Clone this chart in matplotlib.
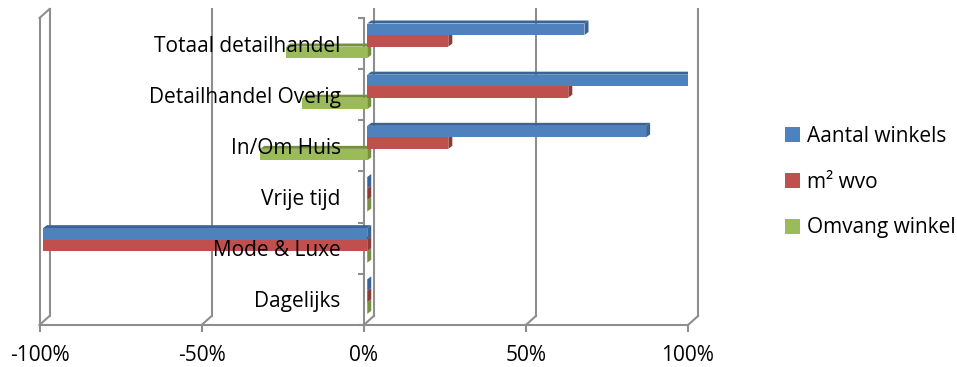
import numpy as np
import matplotlib
matplotlib.use("Agg")
import matplotlib.pyplot as plt
from matplotlib.patches import Patch, Polygon, Rectangle
from matplotlib.transforms import ScaledTranslation

# data (bottom -> top)
categories = ["Dagelijks", "Mode & Luxe", "Vrije tijd", "In/Om Huis",
              "Detailhandel Overig", "Totaal detailhandel"]
aantal_winkels = [0.0, -1.00, 0.0, 0.86, 1.00, 0.67]
m2_wvo = [0.0, -1.00, 0.0, 0.25, 0.62, 0.25]
omvang_winkel = [0.0, 0.0, 0.0, -0.33, -0.20, -0.25]
series_names = ["Aantal winkels", "m\u00b2 wvo", "Omvang winkel"]
x_ticks = [-1.0, -0.5, 0.0, 0.5, 1.0]
x_labels = ["-100%", "-50%", "0%", "50%", "100%"]

face = ["#4F81BD", "#C0504D", "#9BBB59"]
side = ["#3A6496", "#8E3A37", "#76903F"]
GRID = "#8E8E8E"

plt.rcParams["font.family"] = ["Open Sans", "DejaVu Sans"]
FS = 15

fig = plt.figure(figsize=(9.57, 3.67), dpi=100)
AX_W, AX_H = 648.5, 307.0
ax = fig.add_axes([39.5 / 957, 1 - 325 / 367, AX_W / 957, AX_H / 367])
ax.set_xlim(-1, 1)
ax.set_ylim(-0.5, len(categories) - 0.5)

# data units per pixel
XPP = 2.0 / AX_W
YPP = len(categories) / AX_H

px = lambda dx, dy: ScaledTranslation(dx / 100, dy / 100, fig.dpi_scale_trans)
back = ax.transData + px(10, 9)

# 3D frame: back wall gridlines, floor diagonals, left wall
y0, y1 = -0.5, len(categories) - 0.5
for xv in x_ticks:
    ax.plot([xv, xv], [y0, y1], color=GRID, lw=1.5, transform=back, clip_on=False, zorder=0)
    ax.plot([xv, xv + 10 * XPP], [y0, y0 + 9 * YPP], color=GRID, lw=1.5, clip_on=False, zorder=0)
ax.plot([-1, -1], [y0, y1], color=GRID, lw=1.5, clip_on=False, zorder=0)
ax.plot([-1, -1 + 10 * XPP], [y1, y1 + 9 * YPP], color=GRID, lw=1.5, clip_on=False, zorder=0)

# 3D bars: front face + top face + end face
y = np.arange(len(categories))
h = 0.225
shift = 0.055
x_base = 3.5 * XPP
ddx, ddy = 4 * XPP, 3 * YPP
all_vals = [aantal_winkels, m2_wvo, omvang_winkel]
offsets = [h, 0.0, -h]


def bar3d(v, yc, fc, sc, z):
    xa, xb = sorted([x_base, x_base + v])
    yb, yt = yc - h / 2, yc + h / 2
    top = [(xa, yt), (xb, yt), (xb + ddx, yt + ddy), (xa + ddx, yt + ddy)]
    end = [(xb, yb), (xb + ddx, yb + ddy), (xb + ddx, yt + ddy), (xb, yt)]
    ax.add_patch(Polygon(top, closed=True, facecolor=sc, edgecolor="none", zorder=z))
    ax.add_patch(Polygon(end, closed=True, facecolor=sc, edgecolor="none", zorder=z))
    if xb > xa:
        ax.add_patch(Rectangle((xa, yb), xb - xa, h, facecolor=fc, edgecolor="none", zorder=z + 0.01))


# draw lowest series first so upper bars cover their top faces
for i in [2, 1, 0]:
    for yi, v in zip(y, all_vals[i]):
        bar3d(v, yi + offsets[i] + shift, face[i], side[i], 1 + (2 - i) * 0.05)

# axes styling
for s in ["top", "right"]:
    ax.spines[s].set_visible(False)
ax.spines["left"].set_position(("data", 0))
ax.spines["left"].set_color(GRID)
ax.spines["left"].set_linewidth(1.5)
ax.spines["left"].set_zorder(0.5)
ax.spines["bottom"].set_color(GRID)
ax.spines["bottom"].set_linewidth(1.5)

ax.set_yticks(y)
ax.set_yticklabels(categories, fontsize=FS)
ax.set_yticks(np.arange(-0.5, len(categories)), minor=True)
ax.tick_params(axis="y", which="major", length=0, pad=16.5)
ax.tick_params(axis="y", which="minor", length=4.5, width=1.5, color=GRID, direction="out")

ax.set_xticks(x_ticks)
ax.set_xticklabels(x_labels, fontsize=FS)
ax.tick_params(axis="x", length=5, width=1.5, color=GRID, pad=9.5)

handles = [Patch(facecolor=c, edgecolor="none") for c in face]
fig.legend(handles, series_names, loc="center left", bbox_to_anchor=(785 / 957, 1 - 182 / 367),
           frameon=False, fontsize=FS, handlelength=0.7, handleheight=0.7,
           handletextpad=0.35, labelspacing=1.2, borderpad=0, borderaxespad=0)

fig.savefig("out.png", dpi=100)
